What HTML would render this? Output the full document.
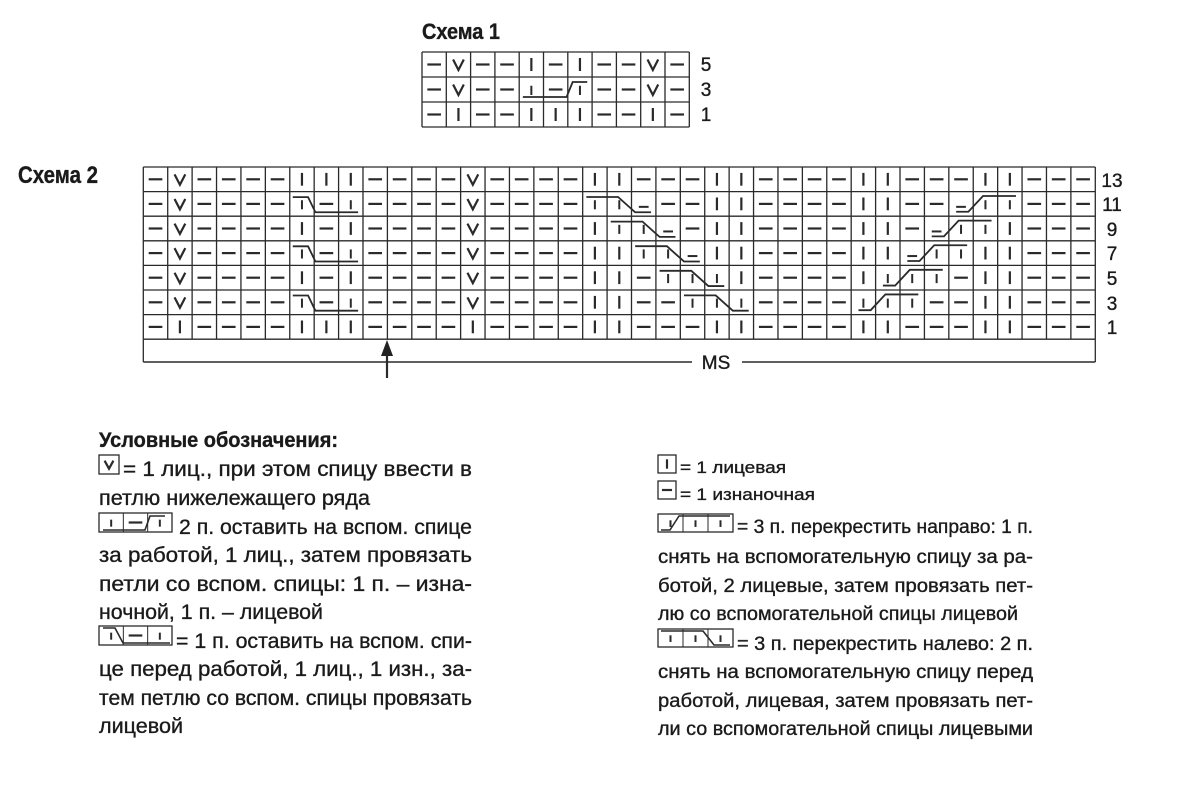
<!DOCTYPE html>
<html><head><meta charset="utf-8"><style>
html,body{margin:0;padding:0;background:#fff;}
svg{display:block;}
.t{font-family:"Liberation Sans Narrow","Liberation Sans",sans-serif;fill:#1a1a1a;stroke:#1a1a1a;stroke-width:0.35;}
</style></head><body>
<svg id="s" width="1200" height="797" viewBox="0 0 1200 797" xmlns="http://www.w3.org/2000/svg">
<rect width="1200" height="797" fill="#fff"/>
<g class="t">
<text x="422" y="39" font-size="22" font-weight="bold" textLength="78" lengthAdjust="spacingAndGlyphs">Схема 1</text>
<text x="18" y="183" font-size="24" font-weight="bold" textLength="80" lengthAdjust="spacingAndGlyphs">Схема 2</text>
<g font-size="19" text-anchor="middle">
<text x="706" y="71">5</text><text x="706" y="96">3</text><text x="706" y="121">1</text>
<text x="1112" y="187">13</text><text x="1112" y="211">11</text><text x="1112" y="236">9</text>
<text x="1112" y="260">7</text><text x="1112" y="285">5</text><text x="1112" y="310">3</text><text x="1112" y="334">1</text>
<text x="716" y="369">MS</text>
</g>
<text x="99" y="447" font-size="21" font-weight="bold" textLength="239" lengthAdjust="spacingAndGlyphs">Условные обозначения:</text>
<g font-size="21">
<text x="123" y="476" textLength="349" lengthAdjust="spacingAndGlyphs">= 1 лиц., при этом спицу ввести в</text>
<text x="99" y="505" textLength="271" lengthAdjust="spacingAndGlyphs">петлю нижележащего ряда</text>
<text x="179" y="534" textLength="293" lengthAdjust="spacingAndGlyphs">2 п. оставить на вспом. спице</text>
<text x="99" y="562" textLength="373" lengthAdjust="spacingAndGlyphs">за работой, 1 лиц., затем провязать</text>
<text x="99" y="591" textLength="373" lengthAdjust="spacingAndGlyphs">петли со вспом. спицы: 1 п. – изна-</text>
<text x="99" y="619" textLength="224" lengthAdjust="spacingAndGlyphs">ночной, 1 п. – лицевой</text>
<text x="176" y="648" textLength="296" lengthAdjust="spacingAndGlyphs">= 1 п. оставить на вспом. спи-</text>
<text x="99" y="676" textLength="373" lengthAdjust="spacingAndGlyphs">це перед работой, 1 лиц., 1 изн., за-</text>
<text x="99" y="705" textLength="373" lengthAdjust="spacingAndGlyphs">тем петлю со вспом. спицы провязать</text>
<text x="99" y="733" textLength="84" lengthAdjust="spacingAndGlyphs">лицевой</text>
</g>
<g font-size="17">
<text x="680" y="473" textLength="106" lengthAdjust="spacingAndGlyphs">= 1 лицевая</text>
<text x="680" y="500" textLength="135" lengthAdjust="spacingAndGlyphs">= 1 изнаночная</text>
</g>
<g font-size="19">
<text x="737" y="533" textLength="296" lengthAdjust="spacingAndGlyphs">= 3 п. перекрестить направо: 1 п.</text>
<text x="658" y="563" textLength="375" lengthAdjust="spacingAndGlyphs">снять на вспомогательную спицу за ра-</text>
<text x="658" y="592" textLength="375" lengthAdjust="spacingAndGlyphs">ботой, 2 лицевые, затем провязать пет-</text>
<text x="658" y="620" textLength="360" lengthAdjust="spacingAndGlyphs">лю со вспомогательной спицы лицевой</text>
<text x="737" y="650" textLength="296" lengthAdjust="spacingAndGlyphs">= 3 п. перекрестить налево: 2 п.</text>
<text x="658" y="678" textLength="375" lengthAdjust="spacingAndGlyphs">снять на вспомогательную спицу перед</text>
<text x="658" y="707" textLength="375" lengthAdjust="spacingAndGlyphs">работой, лицевая, затем провязать пет-</text>
<text x="658" y="735" textLength="375" lengthAdjust="spacingAndGlyphs">ли со вспомогательной спицы лицевыми</text>
</g>
</g>
<g id="g" stroke="#2a2a2a" fill="none" stroke-linecap="butt"></g>
</svg>
<script>
var G=document.getElementById('g'),NS='http://www.w3.org/2000/svg';
function L(x1,y1,x2,y2,w){var e=document.createElementNS(NS,'line');e.setAttribute('x1',x1);e.setAttribute('y1',y1);e.setAttribute('x2',x2);e.setAttribute('y2',y2);e.setAttribute('stroke-width',w||1.3);G.appendChild(e);}
function P(pts,w){var e=document.createElementNS(NS,'polyline');e.setAttribute('points',pts.map(function(p){return p.join(',')}).join(' '));e.setAttribute('stroke-width',w||2);G.appendChild(e);}
function R(x,y,w,h){var e=document.createElementNS(NS,'rect');e.setAttribute('x',x);e.setAttribute('y',y);e.setAttribute('width',w);e.setAttribute('height',h);e.setAttribute('stroke-width',1.3);G.appendChild(e);}
function sym(t,x,y,w,h){var cx=x+w/2,cy=y+h/2;
 if(t=='-')L(x+w*0.22,cy,x+w*0.78,cy,2.2);
 else if(t=='|')L(cx,y+h*0.24,cx,y+h*0.76,2.2);
 else if(t=='v')P([[cx-w*0.22,cy-h*0.2],[cx,cy+h*0.22],[cx+w*0.22,cy-h*0.2]],2.2);
 else if(t=='i')L(cx,y+h*0.35,cx,y+h*0.72,2);
 else if(t=='d')L(x+w*0.3,y+h*0.62,x+w*0.7,y+h*0.62,2);
}
function grid(x0,y0,w,h,rows){var nr=rows.length,nc=rows[0].length;
 for(var r=0;r<=nr;r++)L(x0,y0+r*h,x0+nc*w,y0+r*h);
 for(var c=0;c<=nc;c++)L(x0+c*w,y0,x0+c*w,y0+nr*h);
 rows.forEach(function(row,r){for(var c=0;c<nc;c++)sym(row[c],x0+c*w,y0+r*h,w,h);});}
function cableDown(x0,y0,w,h,c,r){var x=x0+c*w,y=y0+r*h;
 P([[x+w*0.15,y+h*0.22],[x+w*1.45,y+h*0.22],[x+w*2.15,y+h*0.84],[x+w*2.8,y+h*0.84]],1.8);}
function cableUp(x0,y0,w,h,c,r){var x=x0+c*w,y=y0+r*h;
 P([[x+w*0.3,y+h*0.82],[x+w*0.8,y+h*0.82],[x+w*1.4,y+h*0.18],[x+w*2.75,y+h*0.18]],1.8);}
var s1=['-v--|-|--v-','-v--i-i--v-','-|--|||--|-'];
grid(422,52,24.3,25,s1);
(function(){var w=24.3,x=422+4*w,y=77;P([[x+w*0.15,y+20],[x+w*1.95,y+20],[x+w*2.2,y+5],[x+w*2.8,y+5]],1.8);})();
var X=143.3,Y=167,W=24.41,H=24.6;
var base='-|----|||----|----||---||----||---||---';
var rows=[];
rows[0]=base.split('');rows[0][1]='v';rows[0][13]='v';
for(var r=1;r<6;r++){rows[r]=rows[0].slice();}
rows[6]=base.split('');
[1,3,5].forEach(function(r){rows[r][6]='i';rows[r][7]='-';rows[r][8]='i';});
[2,4].forEach(function(r){rows[r][7]='-';});
for(var k=0;k<5;k++){var r=1+k,c=18+k;
 for(var j=18;j<=24;j++)rows[r][j]=(j<=19||j>=23)?'|':'-';
 rows[r][c]='i';rows[r][c+1]='i';rows[r][c+2]=(c+2>=23)?'i':'d';
}
for(var k=0;k<5;k++){var r=5-k,c=29+k;
 for(var j=29;j<=35;j++)rows[r][j]=(j<=30||j>=34)?'|':'-';
 rows[r][c]=(c<=30)?'i':'d';rows[r][c+1]='i';rows[r][c+2]='i';
}
grid(X,Y,W,H,rows);
[1,3,5].forEach(function(r){var x=X+6*W,y=Y+r*H;P([[x+3,y+5.5],[x+W*0.75,y+5.5],[x+W*1.05,y+H*0.84],[x+W*2.8,y+H*0.84]],1.8);});
for(var k=0;k<5;k++){cableDown(X,Y,W,H,18+k,1+k);cableUp(X,Y,W,H,29+k,5-k);}
var yb=362,xr=X+39*W;
L(X,Y+7*H,X,yb);L(xr,Y+7*H,xr,yb);L(X,yb,692,yb,1.5);L(742,yb,xr,yb,1.5);
L(387,352,387,378,2.2);
var a=document.createElementNS(NS,'polygon');a.setAttribute('points','387,340 381,356 393,356');a.setAttribute('fill','#222');a.setAttribute('stroke','none');G.appendChild(a);
function icon(x,y,w,h,syms){var cw=w/syms.length;R(x,y,w,h);for(var i=1;i<syms.length;i++)L(x+i*cw,y,x+i*cw,y+h,1);syms.forEach(function(s,i){sym(s,x+i*cw,y,cw,h);});}
icon(99,455,20,19,['v']);
icon(99,513,73,19,['i','-','i']);
P([[103,530],[145,530],[150,516],[165,516]],1.6);
icon(99,626,73,19,['i','-','i']);
P([[103,628],[115,628],[123,643],[170,643]],1.6);
icon(658,455,18,18,['|']);
icon(658,481,18,18,['-']);
icon(658,514,75,18,['i','i','i']);
P([[661,530],[670,530],[679,516],[730,516]],1.6);
icon(658,629,75,18,['i','i','i']);
P([[661,631],[703,631],[714,645],[730,645]],1.6);
</script>
</body></html>
